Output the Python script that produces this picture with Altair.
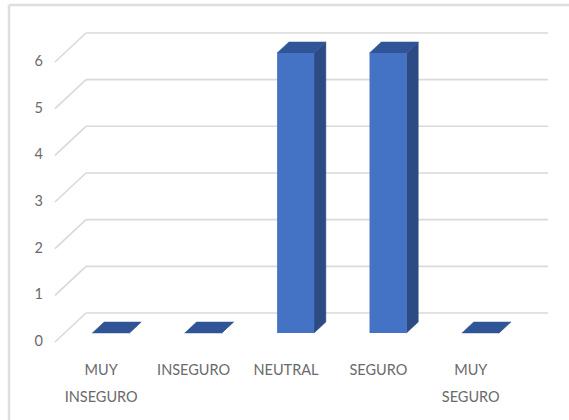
import altair as alt
import pandas as pd

# ---- data -------------------------------------------------------------
categories = ["MUY\nINSEGURO", "INSEGURO", "NEUTRAL", "SEGURO", "MUY\nSEGURO"]
counts = [0, 0, 6, 6, 0]
y_ticks = [0, 1, 2, 3, 4, 5, 6]

# ---- layout / pseudo-3D projection ------------------------------------
W, H = 569, 420
CAT_PX = 92.4        # pixels per category band
UNIT_PX = 46.67      # pixels per value unit
ORIGIN_X = 64.6      # left edge of first band on the bar-face plane
ORIGIN_Y = 333.0     # value 0 on the bar-face plane
SLANT = 1.07         # horizontal shift per pixel of depth
BAR_W = 0.4          # bar width in band units
DEPTH_BAR = 11       # bar depth (px)
DEPTH_WALL = 20      # back wall depth (px)
DEPTH_FRONT = -9     # front edge of the side wall (px)

FACE = "#4472C4"
SIDE = "#2C4A84"
TOP = "#2F5597"
GRID = "#d9d9d9"
TEXT = "#6a6a6a"
FONT = "Lato"


def proj(xu, v, depth):
    """Project (band position, value, depth in px) onto the 2D data plane."""
    return xu + SLANT * depth / CAT_PX, v + depth / UNIT_PX


xs = alt.Scale(domain=[-ORIGIN_X / CAT_PX, (W - ORIGIN_X) / CAT_PX], nice=False, zero=False)
ys = alt.Scale(domain=[-(H - ORIGIN_Y) / UNIT_PX, ORIGIN_Y / UNIT_PX], nice=False, zero=False)
n = len(categories)

# back wall gridlines and side-wall diagonals
grid_rows, diag_rows, tick_rows = [], [], []
for v in y_ticks:
    bx, by = proj(0, v, DEPTH_WALL)
    ex, _ = proj(n, v, DEPTH_WALL)
    fx, fy = proj(0, v, DEPTH_FRONT)
    grid_rows.append({"x": bx, "x2": ex, "y": by})
    diag_rows.append({"x": bx, "y": by, "x2": fx, "y2": fy})
    tick_rows.append({"x": fx, "y": fy, "label": str(v)})
grid_df = pd.DataFrame(grid_rows)
diag_df = pd.DataFrame(diag_rows)
tick_df = pd.DataFrame(tick_rows)

# bar faces
front_rows, side_rows, top_rows, label_rows = [], [], [], []
for i, (cat, val) in enumerate(zip(categories, counts)):
    left = i + 0.5 - BAR_W / 2
    right = i + 0.5 + BAR_W / 2
    front_rows.append({"cat": cat, "x": left, "x2": right, "y": 0, "y2": val})
    for d in (0, DEPTH_BAR):
        sx, s0 = proj(right, 0, d)
        _, s1 = proj(right, val, d)
        side_rows.append({"cat": cat, "x": sx, "y": s0, "y2": s1})
        tx0, ty = proj(left, val, d)
        tx1, _ = proj(right, val, d)
        top_rows.append({"cat": cat, "y": ty, "x": tx0, "x2": tx1})
    lx, ly = proj(i + 0.5, 0, DEPTH_FRONT)
    label_rows.append({"cat": cat, "x": lx, "y": ly})
front_df = pd.DataFrame(front_rows)
side_df = pd.DataFrame(side_rows)
top_df = pd.DataFrame(top_rows)
label_df = pd.DataFrame(label_rows)

# ---- layers -----------------------------------------------------------
grid = alt.Chart(grid_df).mark_rule(color=GRID, strokeWidth=1.6).encode(
    x=alt.X("x:Q", scale=xs, axis=None), x2="x2:Q",
    y=alt.Y("y:Q", scale=ys, axis=None),
)
diag = alt.Chart(diag_df).mark_rule(color=GRID, strokeWidth=1.6).encode(
    x=alt.X("x:Q", scale=xs, axis=None), x2="x2:Q",
    y=alt.Y("y:Q", scale=ys, axis=None), y2="y2:Q",
)
side = alt.Chart(side_df).mark_area(orient="vertical", color=SIDE, stroke=SIDE, strokeWidth=0.5).encode(
    x=alt.X("x:Q", scale=xs, axis=None),
    y=alt.Y("y:Q", scale=ys, axis=None, stack=None), y2="y2:Q",
    detail="cat:N",
)
top = alt.Chart(top_df).mark_area(orient="horizontal", color=TOP, stroke=TOP, strokeWidth=0.5).encode(
    y=alt.Y("y:Q", scale=ys, axis=None),
    x=alt.X("x:Q", scale=xs, axis=None, stack=None), x2="x2:Q",
    detail="cat:N",
)
front = alt.Chart(front_df).mark_rect(color=FACE).encode(
    x=alt.X("x:Q", scale=xs, axis=None), x2="x2:Q",
    y=alt.Y("y:Q", scale=ys, axis=None), y2="y2:Q",
)
ticks = alt.Chart(tick_df).mark_text(
    align="right", baseline="middle", dx=-12, font=FONT, fontSize=14.5, color=TEXT
).encode(
    x=alt.X("x:Q", scale=xs, axis=None),
    y=alt.Y("y:Q", scale=ys, axis=None),
    text="label:N",
)
labels = alt.Chart(label_df).mark_text(
    align="center", baseline="top", dy=22, lineBreak="\n", lineHeight=27,
    font=FONT, fontSize=14.5, color=TEXT
).encode(
    x=alt.X("x:Q", scale=xs, axis=None),
    y=alt.Y("y:Q", scale=ys, axis=None),
    text="cat:N",
)

# chart-area frame (top and left edges)
frame_top = alt.Chart(pd.DataFrame({"k": [0]})).mark_rule(color="#dedede", strokeWidth=2.5).encode(
    x=alt.value(9), x2=alt.value(W), y=alt.value(5)
)
frame_left = alt.Chart(pd.DataFrame({"k": [0]})).mark_rule(color="#dedede", strokeWidth=2.5).encode(
    x=alt.value(9), y=alt.value(5), y2=alt.value(H)
)

chart = alt.layer(
    frame_top, frame_left, grid, diag, side, top, front, ticks, labels
).properties(
    width=W, height=H, padding=0, autosize=alt.AutoSizeParams(type="none"),
    background="white",
).configure_view(stroke=None)

chart.save("out.html", embed_options={"renderer": "svg", "actions": False})
